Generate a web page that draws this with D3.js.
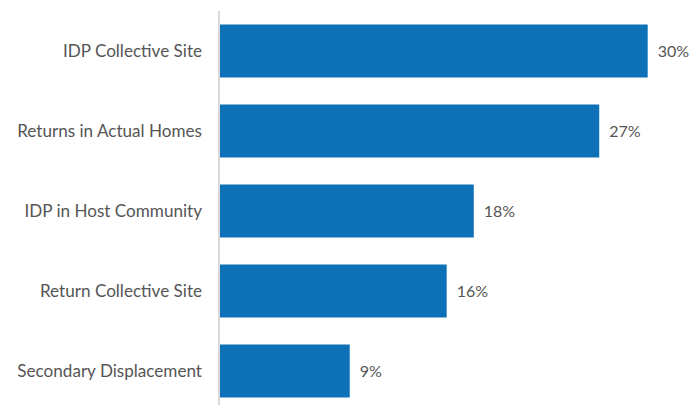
<!DOCTYPE html>
<html><head><meta charset="utf-8">
<script src="https://cdn.jsdelivr.net/npm/d3@7"></script>
<style>body{margin:0;background:#fff}svg{display:block}</style>
</head><body>
<script>
const categories = ["IDP Collective Site","Returns in Actual Homes","IDP in Host Community","Return Collective Site","Secondary Displacement"];
const values = [30, 26.6, 17.8, 15.9, 9.1];
const valueLabels = ["30%","27%","18%","16%","9%"];

const W = 690, H = 405;
const svg = d3.select("body").append("svg").attr("width", W).attr("height", H);
const x0 = 220;
const x = d3.scaleLinear().domain([0, 30]).range([x0, 647.7]);
const y = d3.scaleBand().domain(categories).range([11, 411]).paddingInner(0.3375).paddingOuter(0.16875);

svg.selectAll("rect.bar").data(categories).enter().append("rect")
  .attr("x", x(0)).attr("y", d => y(d))
  .attr("width", (d,i) => x(values[i]) - x(0))
  .attr("height", y.bandwidth())
  .attr("fill", "#0e71b8");

svg.append("line").attr("x1", 219).attr("x2", 219).attr("y1", 11).attr("y2", H)
  .attr("stroke", "#d9d9d9").attr("stroke-width", 2);

const font = "Lato, 'Open Sans', sans-serif";
svg.selectAll("text.cat").data(categories).enter().append("text")
  .attr("x", 202).attr("y", d => y(d) + y.bandwidth()/2)
  .attr("dy", "0.35em").attr("text-anchor", "end")
  .attr("font-family", font).attr("font-size", 17.1).attr("fill", "#555555")
  .text(d => d);

svg.selectAll("text.val").data(categories).enter().append("text")
  .attr("x", (d,i) => x(values[i]) + 10).attr("y", d => y(d) + y.bandwidth()/2)
  .attr("dy", "0.35em")
  .attr("font-family", font).attr("font-size", 16).attr("fill", "#555555")
  .text((d,i) => valueLabels[i]);
</script>
</body></html>
